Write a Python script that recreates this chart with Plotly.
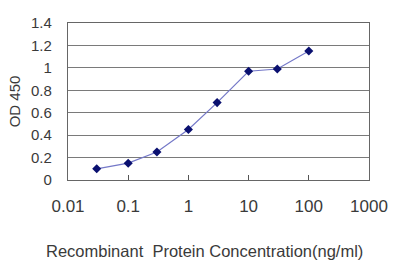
import plotly.graph_objects as go

conc = [0.03, 0.1, 0.3, 1, 3, 10, 30, 100]
od = [0.10, 0.15, 0.25, 0.45, 0.69, 0.97, 0.99, 1.15]
x_ticks = [0.01, 0.1, 1, 10, 100, 1000]
x_labels = ["0.01", "0.1", "1", "10", "100", "1000"]
y_ticks = [0, 0.2, 0.4, 0.6, 0.8, 1, 1.2, 1.4]
y_labels = ["0", "0.2", "0.4", "0.6", "0.8", "1", "1.2", "1.4"]
x_title = "Recombinant  Protein Concentration(ng/ml)"
y_title = "OD 450"

fig = go.Figure()
fig.add_trace(go.Scatter(
    x=conc, y=od, mode="lines+markers",
    line=dict(color="#7478c8", width=1.2),
    marker=dict(symbol="diamond", size=7, color="#0a1070"),
))

fam = "Liberation Sans, Arial, sans-serif"
fig.update_layout(
    width=400, height=267,
    margin=dict(l=68, r=28, t=23, b=87),
    paper_bgcolor="white", plot_bgcolor="white",
    showlegend=False,
    font=dict(family=fam, color="#3a3a3a"),
    xaxis=dict(
        type="log", range=[-2, 3],
        tickvals=x_ticks, ticktext=x_labels,
        tickfont=dict(size=17, color="#3a3a3a"),
        ticks="inside", ticklen=5, tickcolor="#555555",
        ticklabelstandoff=10,
        showline=True, linecolor="#666666", linewidth=1.2, mirror=True,
        showgrid=False, zeroline=False,
    ),
    yaxis=dict(
        range=[0, 1.4],
        tickvals=y_ticks, ticktext=y_labels,
        tickfont=dict(size=15, color="#3a3a3a"),
        ticks="", ticklabelstandoff=12,
        showline=True, linecolor="#666666", linewidth=1.2, mirror=True,
        showgrid=True, gridcolor="#7a7a7a", gridwidth=1.3,
        zeroline=False,
        title=dict(text=y_title, font=dict(size=15, color="#3a3a3a"), standoff=6),
    ),
    annotations=[dict(
        text=x_title, xref="paper", yref="paper",
        x=0.454, y=-0.452, xanchor="center", yanchor="middle",
        showarrow=False, font=dict(size=16.5, color="#3a3a3a", family=fam),
    )],
)

fig.write_html("out.html")
